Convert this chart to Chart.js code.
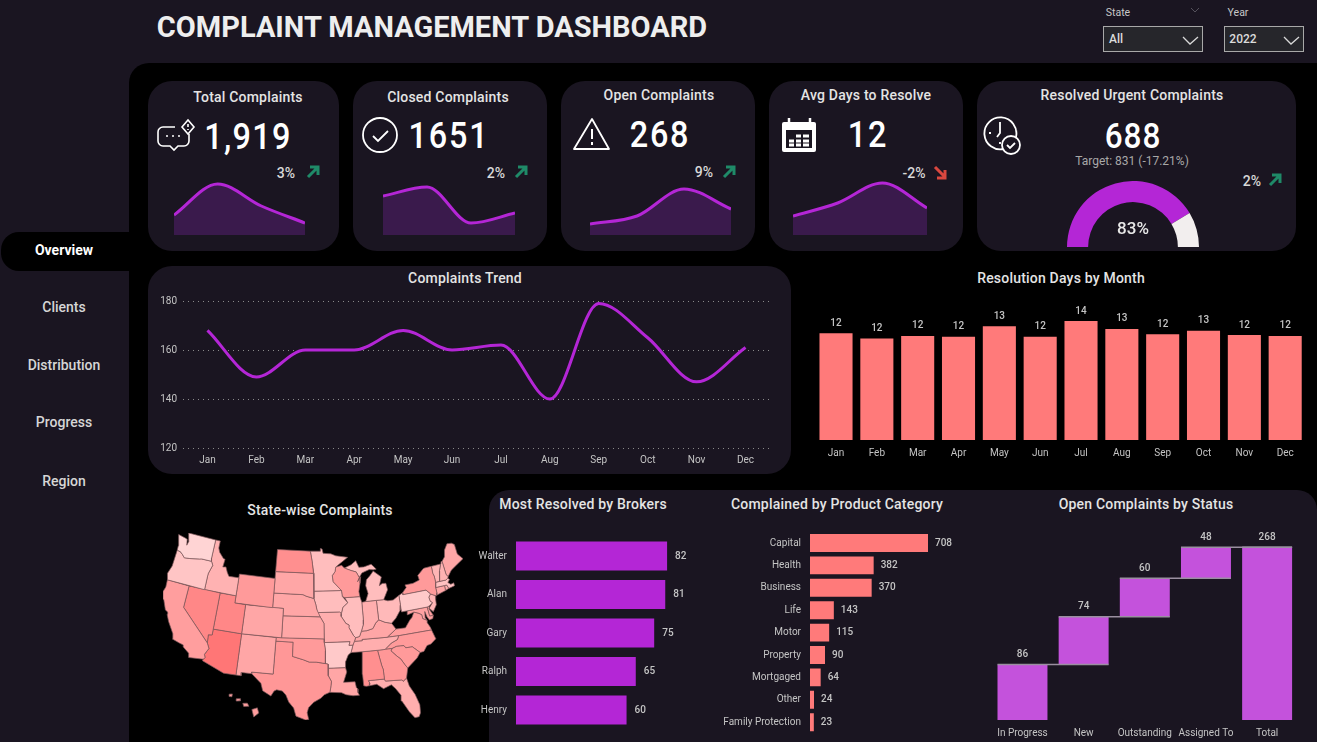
<!DOCTYPE html>
<html>
<head>
<meta charset="utf-8">
<title>Complaint Management Dashboard</title>
<script src="https://cdn.jsdelivr.net/npm/chart.js@4/dist/chart.umd.min.js"></script>
<style>
    html, body { margin: 0; padding: 0; width: 1317px; height: 742px; overflow: hidden; background: #1a1521; }
    body { font-family: 'Roboto', sans-serif; color: #e6e6e6; position: relative; }
    canvas { position: absolute; }
    .main { position: absolute; left: 129px; top: 63px; right: 0; bottom: 0; background: #000; border-top-left-radius: 20px; }
    .card { position: absolute; background: #1a1521; border-radius: 24px; }
    .pill { position: absolute; left: 1px; top: 232px; width: 146px; height: 39px; background: #000; border-radius: 18px; }
    .txt { position: absolute; white-space: nowrap; transform: translate(-50%, -50%); }
    .title { font-size: 14px; font-weight: 500; letter-spacing: 0.2px; color: #e4e4e4; }
    .nav { font-size: 14px; font-weight: 500; color: #d6d6d6; }
    .big { font-size: 36px; font-weight: 500; letter-spacing: 2px; color: #fff; transform: translate(-50%, -50%) scaleX(0.9); }
    .pct { font-size: 14px; font-weight: 500; color: #d8d8d8; }
    .slicer { position: absolute; top: 26px; height: 24px; background: #26262b; border: 1.5px solid #a8a8a8; }
    svg { position: absolute; overflow: visible; }
</style>
</head>
<body>
<div class="main"></div>
<div class="pill"></div>

<div class="card" style="left:148px;top:81px;width:191px;height:170px"></div>
<div class="card" style="left:353px;top:81px;width:194px;height:170px"></div>
<div class="card" style="left:561px;top:81px;width:194px;height:170px"></div>
<div class="card" style="left:769px;top:81px;width:194px;height:170px"></div>
<div class="card" style="left:977px;top:81px;width:319px;height:170px"></div>
<div class="card" style="left:148px;top:266px;width:643px;height:208px"></div>
<div class="card" style="left:489px;top:490px;width:828px;height:252px;border-radius:20px 20px 0 0"></div>

<div class="txt" style="left:432px;top:27px;font-size:29px;font-weight:700;color:#eeeeee">COMPLAINT MANAGEMENT DASHBOARD</div>

<div class="txt" style="left:1118px;top:12px;font-size:10.5px;color:#c8c8c8">State</div>
<div class="txt" style="left:1238px;top:12px;font-size:10.5px;color:#c8c8c8">Year</div>
<div class="slicer" style="left:1103px;width:98px"></div>
<div class="slicer" style="left:1224px;width:78px"></div>
<div class="txt" style="left:1116px;top:39px;font-size:12px;font-weight:500;color:#dcdcdc">All</div>
<div class="txt" style="left:1243px;top:39px;font-size:12px;font-weight:500;color:#dcdcdc">2022</div>
<svg style="left:0;top:0" width="1317" height="742" fill="none">
    <path d="M1183 37l7 7 8-7M1284 37l7 7 8-7" stroke="#d8d8d8" stroke-width="1.3"/>
    <path d="M1191 8l4 4 4-4" stroke="#55525c" stroke-width="1"/>

    <!-- Total Complaints -->
    <g stroke="#fff" stroke-width="1.6">
        <path d="M175 127h-12a5 5 0 0 0-5 5v9a5 5 0 0 0 5 5h7l4 4 4-4h6a5 5 0 0 0 5-5v-7"/>
        <path d="M182 127l6-7 6 7-6 7z"/>
    </g>
    <path d="M166 136h2M172 136h2M178 136h2M188 124v3M188 129v1" stroke="#fff" stroke-width="1.6"/>

    <!-- Closed Complaints -->
    <circle cx="380" cy="135" r="17" stroke="#fff" stroke-width="1.8"/>
    <path d="M373 136l5 5 10-10" stroke="#fff" stroke-width="1.8"/>

    <!-- Open Complaints -->
    <path d="M592 119l17 30h-35z" stroke="#fff" stroke-width="1.8" stroke-linejoin="round"/>
    <path d="M592 129v10M592 142v3" stroke="#fff" stroke-width="2"/>

    <!-- Avg Days -->
    <rect x="782" y="122" width="34" height="30" rx="2" fill="#fff"/>
    <rect x="786" y="130" width="26" height="18" fill="#1a1521"/>
    <path d="M789 118v7M810 118v7" stroke="#fff" stroke-width="2.5"/>
    <path d="M789 141h5M796 141h5M803 141h6M789 145h5M796 145h5M803 145h6M796 136h5M803 136h6" stroke="#fff" stroke-width="3"/>

    <!-- Resolved Urgent -->
    <g transform="translate(-12,0)">
        <path d="M1028 137a16 16 0 1 0-12 12" stroke="#fff" stroke-width="1.8"/>
        <path d="M1012 122v3M1012 144v-2M1001 133h2M1012 125v8l-3 4" stroke="#fff" stroke-width="1.8"/>
        <circle cx="1023" cy="145" r="9" stroke="#fff" stroke-width="1.8" fill="#1a1521"/>
        <path d="M1019 145l3 3 5-5" stroke="#fff" stroke-width="1.8"/>
    </g>

    <!-- Trend arrows -->
    <g stroke="#1f8a68" stroke-width="3">
        <path d="M308 177l9-9M310 167h8v8"/>
        <path d="M516 177l9-9M518 167h8v8"/>
        <path d="M724 177l9-9M726 167h8v8"/>
        <path d="M1270 185l9-9M1272 175h8v8"/>
    </g>
    <path d="M935 167l9 9M945 170v8h-8" stroke="#d9473f" stroke-width="3"/>
</svg>

<div class="txt nav" style="left:64px;top:250px;color:#fff;font-weight:700">Overview</div>
<div class="txt nav" style="left:64px;top:307px">Clients</div>
<div class="txt nav" style="left:64px;top:365px">Distribution</div>
<div class="txt nav" style="left:64px;top:422px">Progress</div>
<div class="txt nav" style="left:64px;top:481px">Region</div>

<div class="txt title" style="left:248px;top:97px">Total Complaints</div>
<div class="txt title" style="left:448px;top:97px">Closed Complaints</div>
<div class="txt title" style="left:659px;top:95px">Open Complaints</div>
<div class="txt title" style="left:866px;top:95px">Avg Days to Resolve</div>
<div class="txt title" style="left:1132px;top:95px">Resolved Urgent Complaints</div>

<div class="txt big" style="left:248px;top:137px;letter-spacing:1.5px">1,919</div>
<div class="txt big" style="left:449px;top:136px">1651</div>
<div class="txt big" style="left:660px;top:135px">268</div>
<div class="txt big" style="left:868px;top:135px">12</div>
<div class="txt big" style="left:1133px;top:136px;font-size:35px;letter-spacing:1px">688</div>
<div class="txt" style="left:1132px;top:161px;font-size:12px;color:#a8a8a8">Target: 831 (-17.21%)</div>

<div class="txt pct" style="left:286px;top:173px">3%</div>
<div class="txt pct" style="left:496px;top:173px">2%</div>
<div class="txt pct" style="left:704px;top:172px">9%</div>
<div class="txt pct" style="left:914px;top:173px">-2%</div>
<div class="txt pct" style="left:1252px;top:181px">2%</div>
<div class="txt" id="gaugeLabel" style="left:1133px;top:228px;font-size:17px;font-weight:500;color:#e8e8e8;z-index:2">83%</div>

<div class="txt title" style="left:465px;top:278px">Complaints Trend</div>
<div class="txt title" style="left:1061px;top:278px">Resolution Days by Month</div>
<div class="txt title" style="left:320px;top:510px">State-wise Complaints</div>
<div class="txt title" style="left:583px;top:504px">Most Resolved by Brokers</div>
<div class="txt title" style="left:837px;top:504px">Complained by Product Category</div>
<div class="txt title" style="left:1146px;top:504px">Open Complaints by Status</div>

<script>
// 数据
const months = ['Jan', 'Feb', 'Mar', 'Apr', 'May', 'Jun', 'Jul', 'Aug', 'Sep', 'Oct', 'Nov', 'Dec'];
const trendValues = [168, 149, 160, 160, 168, 160, 162, 140, 179, 165, 147, 161];
const trendTicks = [120, 140, 160, 180];
const resolutionDays = [12.2, 11.6, 11.9, 11.8, 13.0, 11.8, 13.6, 12.7, 12.1, 12.5, 12.0, 11.9];

const brokerNames = ['Walter', 'Alan', 'Gary', 'Ralph', 'Henry'];
const brokerValues = [82, 81, 75, 65, 60];

const productNames = ['Capital', 'Health', 'Business', 'Life', 'Motor', 'Property', 'Mortgaged', 'Other', 'Family Protection'];
const productValues = [708, 382, 370, 143, 115, 90, 64, 24, 23];

const statusNames = ['In Progress', 'New', 'Outstanding', 'Assigned To', 'Total'];
const statusValues = [86, 74, 60, 48];
const statusTotal = 268;

const urgentResolved = 688;
const urgentTarget = 831;

// KPI 小图 (按季度估读)
const quarters = ['Q1', 'Q2', 'Q3', 'Q4'];
const sparkTotal = [20, 51, 29, 12];
const sparkClosed = [39, 48, 12, 22];
const sparkOpen = [11, 19, 46, 26];
const sparkDays = [19, 32, 52, 27];

// 各州投诉量 (由颜色深浅估读), MT WV MS 原图无数据
const stateCodes = ['WA', 'OR', 'CA', 'NV', 'ID', 'UT', 'AZ', 'WY', 'CO', 'NM', 'ND', 'SD', 'NE', 'KS', 'OK', 'TX',
    'MN', 'IA', 'MO', 'AR', 'LA', 'WI', 'IL', 'ML', 'MU', 'IN', 'OH', 'KY', 'TN', 'AL', 'GA', 'FL', 'SC', 'NC', 'VA',
    'PA', 'NY', 'NJ', 'DE', 'MD', 'VT', 'NH', 'ME', 'MA', 'CT', 'RI', 'H1', 'H2', 'H3', 'H4'];
const stateValues = [6, 14, 34, 46, 24, 46, 55, 36, 30, 30, 42, 30, 30, 30, 36, 38,
    18, 18, 26, 12, 30, 36, 18, 18, 18, 26, 20, 30, 26, 42, 38, 26, 36, 36, 34,
    12, 36, 22, 34, 32, 22, 24, 30, 16, 30, 26, 34, 34, 34, 34];

// 州界 [经度, 纬度]
const shapeWA = [[-124.7,48.4],[-123.2,48.2],[-122.75,48.1],[-122.5,47.3],[-122.3,47.9],[-122.8,49],[-117.03,49],[-117.04,46.42],[-116.92,46],[-118.98,46],[-119.3,45.93],[-121.2,45.65],[-122.3,45.55],[-122.8,45.9],[-123.4,46.2],[-124.05,46.27],[-124.1,46.9]];
const shapeOR = [[-124.05,46.27],[-123.4,46.2],[-122.8,45.9],[-122.3,45.55],[-121.2,45.65],[-119.3,45.93],[-118.98,46],[-116.92,46],[-116.5,45.5],[-117,44.3],[-117.03,44],[-117.03,42],[-124.2,42],[-124.55,42.85],[-124.1,44]];
const shapeCA = [[-124.2,42],[-120,42],[-120,39],[-114.6,35],[-114.15,34.3],[-114.7,33.4],[-114.5,33],[-114.72,32.72],[-117.12,32.53],[-117.3,33.1],[-118.4,33.75],[-118.5,34.03],[-119.2,34.15],[-120.5,34.45],[-120.65,35.15],[-121.9,36.6],[-122.5,37.5],[-122.5,37.8],[-123,38],[-123.8,39.3],[-124.35,40.3],[-124.1,41]];
const shapeNV = [[-120,42],[-114.05,42],[-114.05,36.2],[-114.7,36.1],[-114.6,35],[-120,39]];
const shapeID = [[-117.03,49],[-116.05,49],[-116.05,48],[-115.7,47.45],[-114.7,46.7],[-114.35,46.65],[-114.5,45.55],[-113.9,45.65],[-113.45,44.95],[-113,44.45],[-111.05,44.48],[-111.05,42],[-117.03,42],[-117.03,44],[-117,44.3],[-116.5,45.5],[-116.92,46],[-117.04,46.42]];
const shapeUT = [[-114.05,42],[-111.05,42],[-111.05,41],[-109.05,41],[-109.05,37],[-114.05,37]];
const shapeAZ = [[-114.05,37],[-109.05,37],[-109.05,31.33],[-111.07,31.33],[-114.82,32.5],[-114.72,32.72],[-114.5,33],[-114.7,33.4],[-114.15,34.3],[-114.6,35],[-114.7,36.1],[-114.05,36.2]];
const shapeWY = [[-111.05,45],[-104.05,45],[-104.05,41],[-111.05,41]];
const shapeCO = [[-109.05,41],[-102.05,41],[-102.05,37],[-109.05,37]];
const shapeNM = [[-109.05,37],[-103,37],[-103.05,32],[-106.6,32],[-106.53,31.78],[-108.2,31.78],[-108.2,31.33],[-109.05,31.33]];
const shapeND = [[-104.05,49],[-97.23,49],[-96.85,47.6],[-96.56,45.94],[-104.05,45.94]];
const shapeSD = [[-104.05,45.94],[-96.56,45.94],[-96.45,45.3],[-96.45,43.5],[-96.45,42.5],[-97.9,42.8],[-98.5,43],[-104.05,43]];
const shapeNE = [[-104.05,43],[-98.5,43],[-97.9,42.8],[-96.45,42.5],[-96.1,41.7],[-95.9,41],[-95.3,40],[-102.05,40],[-102.05,41],[-104.05,41]];
const shapeKS = [[-102.05,40],[-95.3,40],[-94.62,39.1],[-94.62,37],[-102.05,37]];
const shapeOK = [[-103,37],[-94.62,37],[-94.62,36.5],[-94.43,35.4],[-94.48,33.64],[-96,33.85],[-97.2,33.85],[-98.1,34.13],[-100,34.56],[-100,36.5],[-103,36.5]];
const shapeTX = [[-103,36.5],[-100,36.5],[-100,34.56],[-98.1,34.13],[-97.2,33.85],[-96,33.85],[-94.48,33.64],[-94.04,33.55],[-94.04,33],[-94.04,31.99],[-93.55,31.18],[-93.7,30.3],[-93.85,29.7],[-94.7,29.4],[-95.3,28.9],[-96.4,28.35],[-97.2,27.6],[-97.4,26.9],[-97.15,25.96],[-97.6,25.9],[-99.1,26.4],[-99.5,27.5],[-100.3,28.3],[-100.8,29.25],[-101.4,29.77],[-102.3,29.88],[-102.7,29.7],[-103.15,28.98],[-104.5,29.6],[-104.9,30.6],[-106.53,31.78],[-106.6,32],[-103.05,32]];
const shapeMN = [[-97.23,49],[-95.15,49],[-95.15,49.38],[-94.8,49.3],[-94.6,48.7],[-93,48.6],[-92,48.3],[-89.6,48],[-92.1,46.75],[-92.3,46.1],[-92.85,45.6],[-92.75,44.75],[-91.2,43.5],[-96.45,43.5],[-96.45,45.3],[-96.56,45.94],[-96.85,47.6]];
const shapeIA = [[-96.45,43.5],[-91.2,43.5],[-91.1,42.7],[-90.15,41.8],[-91.1,41.2],[-91.42,40.38],[-91.7,40.6],[-95.77,40.58],[-95.9,41],[-96.1,41.7],[-96.45,42.5]];
const shapeMO = [[-95.77,40.58],[-91.7,40.6],[-91.42,40.38],[-91.5,40],[-90.7,39],[-90.15,38.75],[-90.2,38.4],[-89.5,37.3],[-89.15,36.98],[-89.4,36.5],[-89.7,36],[-90.37,36],[-90.15,36.5],[-94.62,36.5],[-94.62,37],[-94.62,39.1],[-95.3,40]];
const shapeAR = [[-94.62,36.5],[-90.15,36.5],[-90.37,36],[-89.7,36],[-90.1,35],[-90.6,34.7],[-91.1,33.8],[-91.17,33],[-94.04,33],[-94.04,33.55],[-94.48,33.64],[-94.43,35.4]];
const shapeLA = [[-94.04,33],[-91.17,33],[-91,32.4],[-91.6,31],[-89.75,31],[-89.6,30.2],[-89.4,30],[-89.4,29.5],[-89.2,29.1],[-90.2,29.1],[-91.3,29.3],[-92,29.6],[-93.85,29.7],[-93.7,30.3],[-93.55,31.18],[-94.04,31.99]];
const shapeWI = [[-92.1,46.75],[-90.9,46.95],[-90.4,46.55],[-89.1,46.15],[-88.1,45.9],[-87.6,45.1],[-88,44.55],[-87.3,45.2],[-87.55,44.3],[-87.9,43.2],[-87.8,42.5],[-90.65,42.5],[-91.1,42.7],[-91.2,43.5],[-92.75,44.75],[-92.85,45.6],[-92.3,46.1]];
const shapeIL = [[-90.65,42.5],[-87.8,42.5],[-87.53,41.7],[-87.53,39.3],[-87.6,38.7],[-88.05,37.8],[-88.45,37.1],[-89.15,36.98],[-89.5,37.3],[-90.2,38.4],[-90.15,38.75],[-90.7,39],[-91.5,40],[-91.42,40.38],[-91.1,41.2],[-90.15,41.8]];
const shapeMiLower = [[-86.8,41.76],[-84.8,41.76],[-83.45,41.73],[-83.15,42.1],[-82.45,43],[-82.6,43.9],[-83.3,43.95],[-83.9,43.7],[-83.3,44.85],[-84.75,45.78],[-85.5,45.2],[-86.25,44.7],[-86.5,43.9],[-86.2,42.8]];
const shapeMiUpper = [[-90.4,46.55],[-89.1,46.15],[-88.1,45.9],[-87.6,45.1],[-87,45.7],[-85.5,46.05],[-84.7,45.95],[-84.1,46],[-84.6,46.45],[-85,46.75],[-86.5,46.5],[-87.5,46.5],[-88,47.45],[-89,46.95]];
const shapeIN = [[-87.53,41.7],[-86.8,41.76],[-84.8,41.76],[-84.8,39.1],[-85.4,38.7],[-86,38],[-87.1,37.8],[-88.05,37.8],[-87.6,38.7],[-87.53,39.3]];
const shapeOH = [[-84.8,41.76],[-83.45,41.73],[-82.7,41.5],[-81.7,41.5],[-80.52,42],[-80.52,40.64],[-80.7,40],[-81.7,39],[-82.6,38.4],[-83.7,38.65],[-84.8,39.1]];
const shapeKY = [[-88.05,37.8],[-87.1,37.8],[-86,38],[-85.4,38.7],[-84.8,39.1],[-83.7,38.65],[-82.6,38.4],[-81.97,37.54],[-83.68,36.6],[-88.07,36.68],[-88.05,36.5],[-89.4,36.5],[-89.15,36.98],[-88.45,37.1]];
const shapeTN = [[-90.1,35],[-89.7,36],[-89.4,36.5],[-88.05,36.5],[-88.07,36.68],[-83.68,36.6],[-81.68,36.59],[-82,36.1],[-83.1,35.75],[-84.32,35],[-85.6,35],[-88.2,35]];
const shapeAL = [[-88.2,35],[-85.6,35],[-85.18,32.87],[-85,32.3],[-85,31],[-87.6,31],[-87.4,30.65],[-87.5,30.3],[-88,30.25],[-88.4,30.35],[-88.45,31.9]];
const shapeGA = [[-85.6,35],[-83.1,35],[-83.35,34.7],[-82.55,33.95],[-81.9,33.4],[-81.4,32.6],[-81,32.05],[-81.45,30.72],[-82.05,30.35],[-82.2,30.57],[-84.86,30.7],[-85,31],[-85,32.3],[-85.18,32.87]];
const shapeFL = [[-87.6,31],[-85,31],[-84.86,30.7],[-82.2,30.57],[-82.05,30.35],[-81.45,30.72],[-81.2,29.6],[-80.5,28.3],[-80.05,26.8],[-80.15,25.7],[-80.45,25.2],[-81.1,25.15],[-81.8,26.1],[-82.7,27.7],[-82.7,28.5],[-83.4,29.5],[-84,30.1],[-85.3,29.7],[-86.3,30.4],[-87.5,30.3],[-87.4,30.65]];
const shapeSC = [[-83.35,34.7],[-83.1,35],[-82.3,35.2],[-81.05,35.15],[-80.8,34.82],[-79.67,34.8],[-78.55,33.86],[-79.2,33.2],[-80.3,32.5],[-81,32.05],[-81.4,32.6],[-81.9,33.4],[-82.55,33.95]];
const shapeNC = [[-84.32,35],[-83.1,35],[-82.3,35.2],[-81.05,35.15],[-80.8,34.82],[-79.67,34.8],[-78.55,33.86],[-77.9,33.9],[-77.2,34.6],[-76.5,34.7],[-75.5,35.25],[-75.9,36.55],[-81.68,36.59],[-82,36.1],[-83.1,35.75]];
const shapeVA = [[-83.68,36.6],[-81.68,36.59],[-75.9,36.55],[-76,36.93],[-76.35,37.6],[-76.3,37.95],[-77,38.3],[-77.05,38.85],[-77.5,39.1],[-78.35,39.4],[-78.85,38.75],[-79.3,38.45],[-80.3,37.5],[-81.97,37.54]];
const shapeMD = [[-79.48,39.72],[-75.79,39.72],[-75.7,38.46],[-75.05,38.45],[-75.25,38.03],[-75.9,37.95],[-76.2,38.4],[-76.4,39.2],[-76.55,38.4],[-76.3,37.95],[-77,38.3],[-77.05,38.85],[-77.5,39.1],[-78.35,39.4],[-79.48,39.2]];
const shapeDE = [[-75.79,39.72],[-75.4,39.8],[-75.55,39.45],[-75.05,38.45],[-75.7,38.46]];
const shapePA = [[-80.52,41.98],[-79.76,42.27],[-79.76,42],[-75.35,42],[-74.7,41.36],[-75.13,40.98],[-75.05,40.4],[-74.7,40.15],[-75.4,39.8],[-75.79,39.72],[-80.52,39.72],[-80.52,40.64]];
const shapeNJ = [[-74.7,41.36],[-73.9,41],[-74,40.5],[-74.1,39.75],[-74.9,38.93],[-75.5,39.5],[-74.7,40.15],[-75.05,40.4],[-75.13,40.98]];
const shapeNY = [[-79.76,42.27],[-78.9,42.9],[-79.05,43.27],[-77.5,43.27],[-76.2,43.55],[-76.3,44.2],[-75,44.95],[-74.7,45],[-73.35,45],[-73.4,44],[-73.25,43.6],[-73.27,42.75],[-73.5,42.05],[-73.5,41.3],[-73.65,41],[-73.9,41],[-74.7,41.36],[-75.35,42],[-79.76,42]];
const shapeVT = [[-73.35,45],[-71.5,45],[-72.05,44.1],[-72.45,43],[-72.46,42.73],[-73.27,42.75],[-73.25,43.6],[-73.4,44]];
const shapeNH = [[-71.5,45],[-71.3,45.3],[-71.08,45.3],[-70.98,43.4],[-70.7,43.07],[-70.85,42.87],[-71.3,42.7],[-72.46,42.73],[-72.45,43],[-72.05,44.1]];
const shapeME = [[-71.08,45.3],[-70.4,45.8],[-70.25,46.2],[-70,46.7],[-69.2,47.45],[-68.3,47.35],[-67.8,47.07],[-67.8,45.7],[-67,44.85],[-68.5,44.3],[-69.8,43.8],[-70.7,43.07],[-70.98,43.4]];
const shapeMA = [[-73.5,42.05],[-73.27,42.75],[-72.46,42.73],[-71.3,42.7],[-70.85,42.87],[-70.6,42.65],[-71.05,42.3],[-70.6,41.95],[-70,42.05],[-70,41.65],[-70.65,41.55],[-71.15,41.5],[-71.38,42.02],[-71.8,42.02]];
const shapeCT = [[-73.5,42.05],[-71.8,42.02],[-71.85,41.32],[-73.65,41],[-73.5,41.3]];
const shapeRI = [[-71.8,42.02],[-71.38,42.02],[-71.15,41.5],[-71.85,41.32]];
// 夏威夷: 插图位置
const shapeHawaii1 = [[-105.9,26.9],[-105.1,27.2],[-104.8,26.5],[-105.5,25.9]];
const shapeHawaii2 = [[-107.4,27.6],[-106.7,27.7],[-106.4,27.3],[-107.2,27.2]];
const shapeHawaii3 = [[-108.5,28.1],[-107.9,28.2],[-107.8,27.9],[-108.4,27.8]];
const shapeHawaii4 = [[-109.7,28.6],[-109.2,28.7],[-109.2,28.3],[-109.6,28.3]];

const stateShapes = [shapeWA, shapeOR, shapeCA, shapeNV, shapeID, shapeUT, shapeAZ, shapeWY, shapeCO, shapeNM, shapeND, shapeSD, shapeNE, shapeKS, shapeOK, shapeTX,
    shapeMN, shapeIA, shapeMO, shapeAR, shapeLA, shapeWI, shapeIL, shapeMiLower, shapeMiUpper, shapeIN, shapeOH, shapeKY, shapeTN, shapeAL, shapeGA, shapeFL, shapeSC, shapeNC, shapeVA,
    shapePA, shapeNY, shapeNJ, shapeDE, shapeMD, shapeVT, shapeNH, shapeME, shapeMA, shapeCT, shapeRI, shapeHawaii1, shapeHawaii2, shapeHawaii3, shapeHawaii4];

// 颜色
const PURPLE = '#b426d6';
const PURPLE_SOFT = '#c452dc';
const SALMON = '#ff7a7a';
const FONT = "'Roboto', sans-serif";
const TICK_COLOR = '#c4c4c4';

Chart.defaults.animation = false;
Chart.defaults.responsive = false;
Chart.defaults.font.family = FONT;
Chart.defaults.font.size = 10;
Chart.defaults.color = TICK_COLOR;
Chart.defaults.plugins.legend.display = false;
Chart.defaults.plugins.tooltip.enabled = false;

// 新建画布
function addCanvas(x, y, w, h) {
    const canvas = document.createElement('canvas');
    canvas.width = w;
    canvas.height = h;
    canvas.style.left = x + 'px';
    canvas.style.top = y + 'px';
    canvas.style.width = w + 'px';
    canvas.style.height = h + 'px';
    document.body.appendChild(canvas);
    return canvas;
}

// 数值标签插件
function valueLabels(formatter, gap) {
    return {
        id: 'valueLabels',
        afterDatasetsDraw(chart) {
            const ctx = chart.ctx;
            const horizontal = chart.options.indexAxis === 'y';
            ctx.save();
            ctx.fillStyle = TICK_COLOR;
            ctx.font = '500 10px ' + FONT;
            ctx.textAlign = horizontal ? 'left' : 'center';
            ctx.textBaseline = horizontal ? 'middle' : 'bottom';
            chart.getDatasetMeta(0).data.forEach((bar, i) => {
                const text = formatter(i);
                if (horizontal) ctx.fillText(text, bar.x + gap, bar.y);
                else ctx.fillText(text, bar.x, bar.y - gap);
            });
            ctx.restore();
        }
    };
}

function hiddenAxis(extra) {
    return Object.assign({ display: false }, extra);
}

// 固定轴的占位, 绘图区只由 layout.padding 决定
function pinScale(scale, key, size) {
    scale[key] = size;
    scale.paddingTop = 0;
    scale.paddingBottom = 0;
    scale.paddingLeft = 0;
    scale.paddingRight = 0;
}

function fixedAxis(size, key, extra) {
    return Object.assign({
        grid: { display: false, drawTicks: false },
        border: { display: false },
        afterFit(scale) { pinScale(scale, key, size); }
    }, extra);
}

// KPI 小图
function drawSpark(x, y, w, h, values) {
    new Chart(addCanvas(x, y, w, h), {
        type: 'line',
        data: {
            labels: quarters,
            datasets: [{
                data: values,
                borderColor: PURPLE,
                borderWidth: 3,
                backgroundColor: '#3a1a4c',
                fill: 'start',
                pointRadius: 0,
                cubicInterpolationMode: 'monotone',
                clip: false
            }]
        },
        options: {
            layout: { padding: 0 },
            scales: {
                x: hiddenAxis(),
                y: hiddenAxis({ min: 0, max: h })
            }
        }
    });
}

drawSpark(174, 175, 131, 60, sparkTotal);
drawSpark(383, 175, 132, 60, sparkClosed);
drawSpark(590, 175, 141, 60, sparkOpen);
drawSpark(793, 175, 134, 60, sparkDays);

// 仪表盘
new Chart(addCanvas(1067, 181, 132, 66), {
    type: 'doughnut',
    data: {
        labels: ['Resolved', 'Remaining'],
        datasets: [{
            data: [urgentResolved, urgentTarget - urgentResolved],
            backgroundColor: [PURPLE, '#f2eeee'],
            borderWidth: 0
        }]
    },
    options: {
        rotation: -90,
        circumference: 180,
        cutout: '68%',
        layout: { padding: 0 }
    }
});

// 投诉趋势
new Chart(addCanvas(148, 290, 643, 180), {
    type: 'line',
    data: {
        labels: months,
        datasets: [{
            data: trendValues,
            borderColor: PURPLE,
            borderWidth: 3,
            pointRadius: 0,
            cubicInterpolationMode: 'monotone',
            clip: false
        }]
    },
    options: {
        layout: { padding: { left: 0, right: 21, top: 11, bottom: 0 } },
        scales: {
            x: fixedAxis(22, 'height', { offset: true, ticks: { maxRotation: 0, padding: 6 } }),
            y: {
                min: trendTicks[0],
                max: trendTicks[trendTicks.length - 1],
                afterFit(scale) { pinScale(scale, 'width', 35); },
                afterBuildTicks(scale) { scale.ticks = trendTicks.map(v => ({ value: v })); },
                border: { display: false, dash: [1, 4] },
                grid: { color: '#8a8a8a', lineWidth: 1, drawTicks: false },
                ticks: { padding: 6 }
            }
        }
    }
});

// 解决天数
new Chart(addCanvas(806, 290, 511, 172), {
    type: 'bar',
    data: {
        labels: months,
        datasets: [{
            data: resolutionDays,
            backgroundColor: SALMON,
            barPercentage: 0.81,
            categoryPercentage: 1
        }]
    },
    options: {
        layout: { padding: { left: 9.6, right: 11.4, top: 10, bottom: 0 } },
        scales: {
            x: fixedAxis(22, 'height', { ticks: { maxRotation: 0, padding: 7 } }),
            y: hiddenAxis({ min: 0, max: 16 })
        }
    },
    plugins: [valueLabels(i => Math.round(resolutionDays[i]).toString(), 5)]
});

// 经纪人
new Chart(addCanvas(470, 530, 250, 200), {
    type: 'bar',
    data: {
        labels: brokerNames,
        datasets: [{
            data: brokerValues,
            backgroundColor: PURPLE,
            barPercentage: 0.753,
            categoryPercentage: 1
        }]
    },
    options: {
        indexAxis: 'y',
        layout: { padding: { left: 0, right: 5, top: 6.75, bottom: 0.75 } },
        scales: {
            y: fixedAxis(46, 'width', { ticks: { padding: 9 } }),
            x: hiddenAxis({ min: 0, max: 108 })
        }
    },
    plugins: [valueLabels(i => brokerValues[i].toString(), 8)]
});

// 产品类别
new Chart(addCanvas(715, 525, 260, 212), {
    type: 'bar',
    data: {
        labels: productNames,
        datasets: [{
            data: productValues,
            backgroundColor: SALMON,
            barPercentage: 0.8,
            categoryPercentage: 1
        }]
    },
    options: {
        indexAxis: 'y',
        layout: { padding: { left: 0, right: 0, top: 6.8, bottom: 3.6 } },
        scales: {
            y: fixedAxis(95, 'width', { ticks: { padding: 9, autoSkip: false } }),
            x: hiddenAxis({ min: 0, max: 990 })
        }
    },
    plugins: [valueLabels(i => productValues[i].toString(), 7)]
});

// 瀑布图: 累加成浮动柱
let runningTotal = 0;
const statusBars = statusValues.map(v => {
    const bar = [runningTotal, runningTotal + v];
    runningTotal += v;
    return bar;
});
statusBars.push([0, statusTotal]);
const statusLabels = statusValues.concat([statusTotal]);

const connectors = {
    id: 'connectors',
    afterDatasetsDraw(chart) {
        const ctx = chart.ctx;
        const bars = chart.getDatasetMeta(0).data;
        ctx.save();
        ctx.strokeStyle = '#9a8fa0';
        ctx.lineWidth = 1.5;
        bars.forEach((bar, i) => {
            const last = i === bars.length - 1;
            const end = last ? bar : bars[i + 1];
            ctx.beginPath();
            ctx.moveTo(bar.x - bar.width / 2, bar.y);
            ctx.lineTo(end.x + end.width / 2, bar.y);
            ctx.stroke();
        });
        ctx.restore();
    }
};

new Chart(addCanvas(982, 530, 335, 212), {
    type: 'bar',
    data: {
        labels: statusNames,
        datasets: [{
            data: statusBars,
            backgroundColor: PURPLE_SOFT,
            barPercentage: 0.817,
            categoryPercentage: 1
        }]
    },
    options: {
        layout: { padding: { left: 9.9, right: 19.3, top: 3, bottom: 0 } },
        scales: {
            x: fixedAxis(22, 'height', { ticks: { maxRotation: 0, autoSkip: false, padding: 7 } }),
            y: hiddenAxis({ min: 0, max: 290 })
        }
    },
    plugins: [connectors, valueLabels(i => statusLabels[i].toString(), 5)]
});

// Albers 投影 (标准纬线 29.5 / 45.5)
const RAD = Math.PI / 180;
const albersN = (Math.sin(29.5 * RAD) + Math.sin(45.5 * RAD)) / 2;
const albersC = Math.cos(29.5 * RAD) ** 2 + 2 * albersN * Math.sin(29.5 * RAD);
const albersRho0 = Math.sqrt(albersC - 2 * albersN * Math.sin(37.5 * RAD)) / albersN;
function albers(point) {
    const rho = Math.sqrt(albersC - 2 * albersN * Math.sin(point[1] * RAD)) / albersN;
    const theta = albersN * (point[0] + 96) * RAD;
    return { x: rho * Math.sin(theta), y: albersRho0 - rho * Math.cos(theta) };
}

function stateColor(value) {
    const t = Math.min(1, Math.max(0, (value - 5) / 50));
    const c = Math.round(214 - t * 96);
    return `rgb(255, ${c}, ${c})`;
}

const mapDatasets = stateShapes.map((shape, i) => ({
    label: stateCodes[i],
    data: shape.concat([shape[0]]).map(albers),
    showLine: true,
    fill: 'shape',
    backgroundColor: stateColor(stateValues[i]),
    borderColor: '#80595c',
    borderWidth: 0.7,
    pointRadius: 0,
    tension: 0,
    clip: false
}));
const mapPoints = mapDatasets.flatMap(d => d.data);

// 美国地图
new Chart(addCanvas(163, 533, 300, 187), {
    type: 'scatter',
    data: { datasets: mapDatasets },
    options: {
        layout: { padding: 0 },
        scales: {
            x: hiddenAxis({ min: Math.min(...mapPoints.map(p => p.x)), max: Math.max(...mapPoints.map(p => p.x)) }),
            y: hiddenAxis({ min: Math.min(...mapPoints.map(p => p.y)), max: Math.max(...mapPoints.map(p => p.y)) })
        }
    }
});
</script>
</body>
</html>
